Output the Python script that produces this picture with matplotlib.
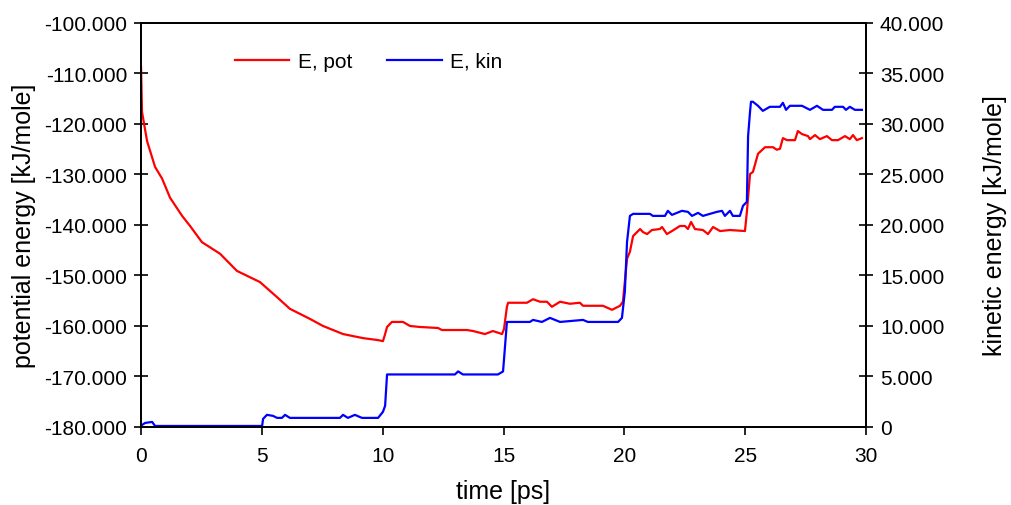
import numpy as np
import matplotlib
matplotlib.use("Agg")
import matplotlib.pyplot as plt
from matplotlib.ticker import FormatStrFormatter

plt.rcParams['font.family'] = ['Liberation Sans', 'DejaVu Sans']

# potential energy (left axis)
t_pot = [0.00, 0.04, 0.25, 0.58, 0.87, 1.20, 1.70, 2.03, 2.52, 3.27, 3.97, 4.92,
         5.63, 6.16, 6.99, 7.53, 8.36, 9.18, 9.81, 10.01, 10.10, 10.18, 10.38,
         10.84, 11.13, 11.54, 12.29, 12.45, 13.20, 13.49, 13.74, 14.23, 14.56,
         14.94, 15.02, 15.14, 15.19, 15.97, 16.22, 16.51, 16.80, 17.00, 17.34,
         17.75, 18.16, 18.29, 19.11, 19.49, 19.82, 19.94, 20.11, 20.23, 20.36,
         20.65, 20.77, 20.94, 21.14, 21.47, 21.56, 21.76, 21.97, 22.30, 22.51,
         22.63, 22.76, 22.92, 23.25, 23.46, 23.67, 23.96, 24.37, 24.99, 25.07,
         25.20, 25.32, 25.53, 25.82, 26.15, 26.31, 26.44, 26.56, 26.73, 27.06,
         27.18, 27.35, 27.60, 27.68, 27.89, 28.09, 28.38, 28.59, 28.84, 29.13,
         29.33, 29.46, 29.62, 29.83]
e_pot = [-108.7, -117.6, -123.4, -128.5, -130.8, -134.6, -138.2, -140.2, -143.4,
         -145.7, -149.1, -151.3, -154.3, -156.6, -158.6, -160.0, -161.6, -162.4,
         -162.8, -163.0, -161.6, -160.2, -159.2, -159.2, -160.0, -160.2, -160.4,
         -160.8, -160.8, -160.8, -161.0, -161.6, -161.0, -161.6, -160.6, -156.2,
         -155.4, -155.4, -154.7, -155.2, -155.2, -156.2, -155.2, -155.6, -155.4,
         -156.0, -156.0, -156.8, -156.0, -155.2, -146.7, -145.3, -142.2, -140.8,
         -141.4, -141.8, -141.0, -140.8, -140.4, -141.8, -141.2, -140.2, -140.2,
         -140.8, -139.4, -140.8, -141.0, -141.8, -140.4, -141.2, -141.0, -141.2,
         -137.4, -129.9, -129.5, -125.9, -124.6, -124.6, -125.1, -124.9, -122.8,
         -123.2, -123.2, -121.4, -122.0, -122.4, -123.0, -122.2, -123.0, -122.4,
         -123.2, -123.2, -122.4, -123.0, -122.2, -123.2, -122.8]

# kinetic energy (right axis)
t_kin = [0.00, 0.04, 0.17, 0.46, 0.58, 5.01, 5.05, 5.21, 5.46, 5.63, 5.83, 5.96,
         6.16, 8.23, 8.36, 8.56, 8.85, 9.14, 9.81, 10.01, 10.10, 10.18, 12.99,
         13.12, 13.32, 14.77, 14.98, 15.02, 15.14, 16.09, 16.22, 16.59, 16.92,
         17.34, 18.29, 18.49, 19.74, 19.90, 20.02, 20.11, 20.23, 20.36, 21.06,
         21.18, 21.68, 21.80, 21.97, 22.38, 22.63, 22.80, 23.05, 23.25, 23.83,
         24.04, 24.16, 24.37, 24.49, 24.78, 24.91, 25.07, 25.12, 25.20, 25.24,
         25.32, 25.53, 25.73, 26.02, 26.44, 26.56, 26.69, 26.85, 27.14, 27.35,
         27.68, 27.97, 28.22, 28.59, 28.71, 29.05, 29.17, 29.33, 29.54, 29.83]
e_kin = [0.0, 0.2, 0.4, 0.5, 0.1, 0.1, 0.8, 1.2, 1.1, 0.9, 0.9, 1.2, 0.9, 0.9,
         1.2, 0.9, 1.2, 0.9, 0.9, 1.5, 2.1, 5.2, 5.2, 5.5, 5.2, 5.2, 5.5, 6.7,
         10.4, 10.4, 10.6, 10.4, 10.8, 10.4, 10.6, 10.4, 10.4, 10.8, 13.4, 18.3,
         20.9, 21.1, 21.1, 20.9, 20.9, 21.4, 21.0, 21.4, 21.3, 20.9, 21.2, 20.9,
         21.3, 21.4, 20.9, 21.4, 20.9, 20.9, 21.9, 22.3, 28.8, 31.2, 32.2, 32.2,
         31.8, 31.3, 31.7, 31.7, 32.1, 31.4, 31.8, 31.8, 31.8, 31.4, 31.8, 31.4,
         31.4, 31.7, 31.7, 31.4, 31.7, 31.4, 31.4]

fig = plt.figure(figsize=(10.11, 5.06), dpi=100)
ax = fig.add_axes([0.1395, 0.1542, 0.7171, 0.7984])
ax2 = ax.twinx()

l1, = ax.plot(t_pot, e_pot, color='#ff0000', lw=1.6, label='E, pot')
l2, = ax2.plot(t_kin, e_kin, color='#0000ff', lw=1.6, label='E, kin')

ax.set_xlim(0, 30)
ax.set_ylim(-180, -100)
ax2.set_ylim(0, 40)
ax.set_xticks(np.arange(0, 31, 5))
ax.set_yticks(np.arange(-180, -99, 10))
ax2.set_yticks(np.arange(0, 41, 5))
ax.yaxis.set_major_formatter(FormatStrFormatter('%.3f'))
ax2.yaxis.set_major_formatter(lambda v, p: '0' if v == 0 else '%.3f' % v)

for a in (ax, ax2):
    for s in a.spines.values():
        s.set_linewidth(1.3)
ax.tick_params(axis='x', direction='out', length=6, width=1.2, labelsize=15, pad=8)
ax.tick_params(axis='y', direction='inout', length=10, width=1.2, labelsize=15, pad=5)
ax2.tick_params(axis='y', direction='inout', length=10, width=1.2, labelsize=15, pad=5)

ax.set_xlabel('time [ps]', fontsize=18, labelpad=10)
ax.set_ylabel('potential energy [kJ/mole]', fontsize=18, labelpad=6)
ax2.set_ylabel('kinetic energy [kJ/mole]', fontsize=18, labelpad=28)

ax2.legend(handles=[l1, l2], loc='center', bbox_to_anchor=(0.314, 0.905), ncol=2,
           frameon=False, fontsize=15, handlelength=2.6, handletextpad=0.4,
           columnspacing=1.7)

plt.savefig('out.png', dpi=100)
